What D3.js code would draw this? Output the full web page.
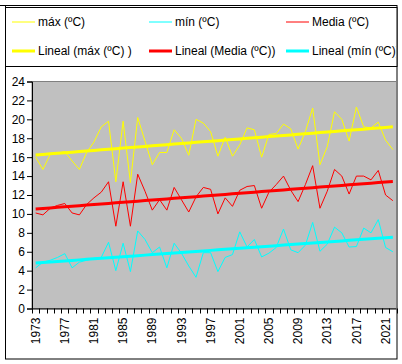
<!DOCTYPE html>
<html><head><meta charset="utf-8">
<script src="https://cdn.jsdelivr.net/npm/d3@7"></script>
<style>
html,body{margin:0;padding:0;background:#fff;}
svg{display:block;font-family:Arial,"Liberation Sans",sans-serif;}
</style></head>
<body><svg id="c" width="402" height="364"></svg>
<script>
const years = d3.range(1973, 2023);
const maxT = [16.0,14.7,16.3,16.4,16.6,15.6,14.7,16.5,17.6,19.2,
  19.8,13.4,19.8,13.3,20.2,17.7,15.2,16.5,16.5,18.9,
  18.0,16.2,20.0,19.6,18.7,16.1,18.1,16.1,17.3,19.1,
  18.9,16.0,18.4,18.5,19.5,19.0,16.85,18.7,21.2,15.2,
  17.1,20.8,20.0,17.7,21.3,19.2,19.1,19.7,17.8,16.8];
const mediaT = [10.1,9.9,10.6,10.9,11.1,10.1,9.9,11.0,11.7,12.3,
  13.4,8.7,13.4,8.7,14.2,12.4,10.4,11.5,10.4,12.8,
  11.5,10.2,11.8,12.8,12.6,10.0,11.7,10.8,12.5,12.9,
  13.0,10.6,12.3,13.1,14.0,12.5,11.3,13.1,15.1,10.6,
  12.4,14.7,14.0,12.1,14.0,14.0,13.6,14.6,12.0,11.4];
const minT = [4.3,4.9,5.1,5.4,5.8,4.3,4.9,5.1,5.3,5.4,
  7.0,4.0,6.9,3.9,8.2,7.3,5.9,6.5,4.3,6.9,
  5.85,4.5,3.3,5.9,5.9,3.9,5.4,5.7,8.1,6.5,
  7.3,5.45,5.85,6.45,8.4,6.2,5.9,6.7,9.1,6.05,
  6.8,8.6,8.0,6.5,6.55,8.5,8.0,9.4,6.45,6.0];
const yTicks = [0,2,4,6,8,10,12,14,16,18,20,22,24];
const xLabelYears = years.filter((y,i)=>i%4===0);

const svg = d3.select("#c");
const L=32, R=396.5, T=81.5, B=308.5;

// outer frame
svg.append("line").attr("x1",0).attr("x2",397).attr("y1",5.5).attr("y2",5.5).attr("stroke","#000");
svg.append("rect").attr("x",5.5).attr("y",5.5).attr("width",391.5).attr("height",353.5)
  .attr("fill","none").attr("stroke","#000");

// legend
const lg = svg.append("g");
lg.append("rect").attr("x",5.5).attr("y",7.5).attr("width",391.5).attr("height",59)
  .attr("fill","#fff").attr("stroke","#000");
svg.append("clipPath").attr("id","lgclip").append("rect").attr("x",5).attr("y",7).attr("width",391).attr("height",60);
const legendItems = [
  {t:"máx (ºC)", c:"#FFFF00", w:1, col:0, row:0},
  {t:"mín (ºC)", c:"#00FFFF", w:1, col:1, row:0},
  {t:"Media (ºC)", c:"#FF0000", w:1, col:2, row:0},
  {t:"Lineal (máx (ºC) )", c:"#FFFF00", w:3, col:0, row:1},
  {t:"Lineal (Media (ºC))", c:"#FF0000", w:3, col:1, row:1},
  {t:"Lineal (mín (ºC))", c:"#00FFFF", w:3, col:2, row:1}
];
const colX=[12,149,286], rowY=[22,51];
const li = lg.append("g").attr("clip-path","url(#lgclip)").selectAll("g").data(legendItems).join("g")
  .attr("transform",d=>`translate(${colX[d.col]},${rowY[d.row]})`);
li.append("line").attr("x1",0).attr("x2",23).attr("y1",0).attr("y2",0)
  .attr("stroke",d=>d.c).attr("stroke-width",d=>d.w);
li.append("text").attr("x",26).attr("y",0).attr("dy","0.35em").attr("font-size",12).attr("fill","#000").text(d=>d.t);

// scales
const x = d3.scaleBand().domain(years).range([L,R]);
const y = d3.scaleLinear().domain([0,24]).range([B,T]);

// plot area
svg.append("rect").attr("x",L).attr("y",T).attr("width",R-L).attr("height",B-T)
  .attr("fill","#C0C0C0").attr("stroke","#808080");

// axes
const yAxis = svg.append("g").attr("transform",`translate(${L},0)`)
  .call(d3.axisLeft(y).tickValues(yTicks).tickSize(5).tickPadding(2).tickFormat(d3.format("d")));
yAxis.select(".domain").attr("stroke","#000");
yAxis.selectAll("text").attr("font-size",12).attr("font-family","Arial,'Liberation Sans',sans-serif").attr("fill","#000");

const xAxis = svg.append("g").attr("transform",`translate(0,${B})`);
xAxis.append("line").attr("x1",L).attr("x2",R).attr("y1",0.5).attr("y2",0.5).attr("stroke","#000");
const bounds = years.map(yr=>x(yr)).concat([R]);
xAxis.selectAll("line.tk").data(bounds).join("line").attr("class","tk")
  .attr("x1",d=>Math.round(d)+0.5).attr("x2",d=>Math.round(d)+0.5).attr("y1",0).attr("y2",5).attr("stroke","#000");
xAxis.selectAll("text").data(xLabelYears).join("text")
  .attr("transform",d=>`translate(${x(d)+x.bandwidth()/2},9) rotate(-90)`)
  .attr("text-anchor","end").attr("dy","0.35em").attr("font-size",12).attr("fill","#000").text(d=>d);

// series
const cx = (i)=>x(years[i])+x.bandwidth()/2;
const line = d3.line().x((d,i)=>cx(i)).y(d=>y(d));
const series = [{v:maxT,c:"#FFFF00"},{v:minT,c:"#00FFFF"},{v:mediaT,c:"#FF0000"}];
function trend(v){
  const n=v.length, xs=d3.range(1,n+1);
  const mx=d3.mean(xs), my=d3.mean(v);
  const b=d3.sum(xs.map((xx,i)=>(xx-mx)*(v[i]-my)))/d3.sum(xs.map(xx=>(xx-mx)**2));
  const a=my-b*mx;
  return xs.map(xx=>a+b*xx);
}
series.forEach(s=>{
  svg.append("path").attr("d",line(s.v)).attr("fill","none").attr("stroke",s.c).attr("stroke-width",1);
});
[{v:maxT,c:"#FFFF00"},{v:mediaT,c:"#FF0000"},{v:minT,c:"#00FFFF"}].forEach(s=>{
  svg.append("path").attr("d",line(trend(s.v))).attr("fill","none").attr("stroke",s.c).attr("stroke-width",3);
});
</script></body></html>
